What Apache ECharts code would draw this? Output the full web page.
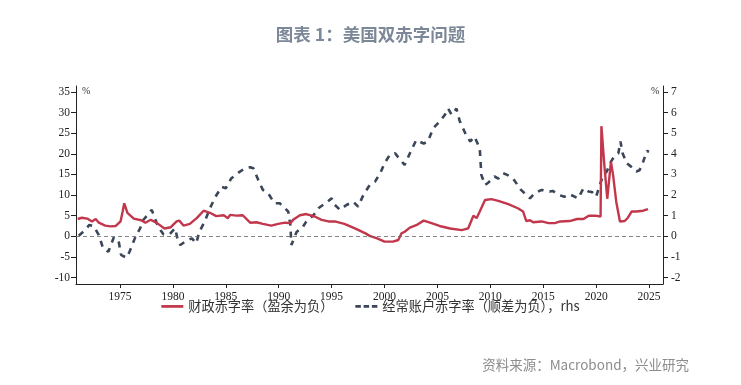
<!DOCTYPE html>
<html><head><meta charset="utf-8">
<script src="https://cdn.jsdelivr.net/npm/echarts@6/dist/echarts.min.js"></script>
<style>html,body{margin:0;padding:0;background:#fff}#c{width:741px;height:385px}</style>
</head><body><div id="c"></div>
<script>
// Fiscal deficit (% GDP, left axis)
var fiscalYears = [1971.0,1971.4,1971.9,1972.35,1972.7,1973.0,1973.6,1974.1,1974.6,1975.05,1975.25,1975.4,1975.7,1976.3,1977.0,1977.4,1977.9,1978.5,1979.2,1979.8,1980.35,1980.6,1981.0,1981.6,1982.25,1982.9,1983.5,1984.1,1984.8,1985.2,1985.4,1986.0,1986.6,1987.3,1987.9,1988.5,1989.3,1989.95,1990.6,1991.1,1991.4,1992.0,1992.6,1993.4,1994.05,1994.7,1995.3,1996.2,1997.2,1998.2,1998.6,1999.3,2000.0,2000.8,2001.3,2001.6,2001.9,2002.4,2003.0,2003.7,2004.3,2005.2,2006.2,2007.3,2007.9,2008.4,2008.7,2009.0,2009.5,2010.1,2010.75,2011.7,2012.6,2013.1,2013.4,2013.75,2014.05,2014.85,2015.5,2016.1,2016.6,2017.5,2018.2,2018.8,2019.3,2019.9,2020.42,2020.5,2020.75,2021.05,2021.4,2021.6,2021.9,2022.25,2022.7,2023.0,2023.35,2023.8,2024.45,2024.9];
var fiscalValues = [4.2,4.5,4.3,3.6,4.2,3.3,2.6,2.4,2.5,3.6,6.0,8.0,5.7,4.3,3.9,3.3,4.0,3.2,1.9,2.2,3.6,3.8,2.6,3.0,4.4,6.2,5.7,4.9,5.1,4.4,5.2,5.0,5.1,3.3,3.4,3.0,2.6,3.0,3.3,3.2,4.1,5.1,5.4,4.8,4.0,3.6,3.6,3.0,1.9,0.7,0.1,-0.5,-1.3,-1.3,-0.9,0.7,1.1,2.1,2.7,3.8,3.3,2.5,1.9,1.5,1.9,5.0,4.4,6.0,8.8,9.0,8.6,7.8,6.8,6.0,3.7,3.9,3.4,3.6,3.2,3.2,3.6,3.7,4.2,4.2,5.0,5.0,4.8,26.7,18.1,9.1,18.1,14.9,8.4,3.6,3.7,4.5,6.0,6.0,6.2,6.6];
// Current account deficit (% GDP, right axis)
var caYears = [1971.1,1971.6,1972.1,1972.5,1973.0,1973.4,1973.9,1974.4,1974.85,1975.1,1975.6,1975.9,1976.4,1976.9,1977.2,1978.0,1978.3,1978.6,1979.1,1979.7,1980.2,1980.5,1980.7,1981.3,1981.8,1982.2,1982.5,1983.0,1983.5,1984.0,1984.6,1985.0,1985.5,1986.2,1986.8,1987.3,1987.6,1988.05,1988.5,1989.0,1989.6,1990.1,1990.6,1990.9,1991.1,1991.2,1991.7,1992.2,1992.6,1993.3,1993.75,1994.4,1995.0,1995.3,1995.8,1996.4,1997.05,1997.5,1998.0,1998.6,1999.1,1999.6,2000.0,2000.5,2001.0,2001.5,2001.9,2002.4,2003.0,2003.7,2004.1,2004.6,2005.2,2005.7,2006.0,2006.35,2006.8,2007.1,2007.7,2008.1,2008.5,2009.0,2009.15,2009.5,2009.8,2010.4,2010.75,2011.2,2011.6,2012.15,2012.9,2013.75,2014.2,2014.85,2015.6,2015.9,2016.5,2017.0,2017.5,2018.3,2018.8,2019.3,2019.6,2020.0,2020.4,2020.7,2021.0,2021.4,2021.7,2022.1,2022.3,2022.5,2022.9,2023.3,2023.8,2024.1,2024.45,2024.8,2025.0];
var caValues = [0.03,0.26,0.55,0.5,0.06,-0.58,-0.75,-0.07,-0.18,-0.9,-1.04,-0.75,-0.1,0.39,0.79,1.28,0.87,0.47,0.1,0.1,0.39,-0.26,-0.42,-0.21,-0.1,-0.34,0.22,0.71,1.36,1.9,2.4,2.33,2.8,3.09,3.3,3.35,3.3,2.75,2.25,2.09,1.6,1.6,1.36,1.2,0.55,-0.42,0.22,0.39,0.71,1.03,1.36,1.6,1.84,1.52,1.28,1.52,1.68,1.44,2.0,2.49,2.65,3.06,3.54,3.95,4.03,3.7,3.46,4.03,4.67,4.5,4.6,5.24,5.56,5.89,6.2,5.89,6.2,5.6,4.92,4.6,4.84,4.27,2.98,2.49,2.6,2.9,2.8,3.06,2.98,2.8,2.25,1.84,2.09,2.25,2.17,2.2,2.0,1.92,2.04,1.84,2.33,2.17,2.15,1.92,2.57,2.98,3.14,3.62,3.86,4.03,4.6,4.03,3.54,3.38,3.14,3.2,3.62,4.14,4.1];
var xTicks = [1975,1980,1985,1990,1995,2000,2005,2010,2015,2020,2025];
var leftTicks = [-10,-5,0,5,10,15,20,25,30,35];
var rightTicks = [-2,-1,0,1,2,3,4,5,6,7];
var seriesNames = ['财政赤字率（盈余为负）','经常账户赤字率（顺差为负），rhs'];

function pairs(xs, ys){ return xs.map(function(x,i){ return [x, ys[i]]; }); }

var chart = echarts.init(document.getElementById('c'), null, {renderer:'canvas'});
var axisFont = {fontFamily:'Liberation Serif', fontSize:11.5, color:'#222'};
chart.setOption({
  animation:false,
  backgroundColor:'#fff',
  title:{text:'图表 1：美国双赤字问题', left:'center', top:21,
    textStyle:{fontFamily:'Noto Sans CJK SC', fontSize:17.5, fontWeight:'bold', color:'#7c8797'}},
  grid:{left:76, right:78, top:86, bottom:101},
  legend:{bottom:67, left:'center', itemWidth:22, itemHeight:10, itemGap:22,
    textStyle:{fontFamily:'Noto Sans CJK SC', fontSize:13.2, color:'#333'},
    data:[
      {name:seriesNames[0], icon:'path://M0,0h24v3h-24z', itemStyle:{color:'#c2374c'}},
      {name:seriesNames[1], icon:'path://M0,0h6v3h-6z M9,0h6v3h-6z M18,0h6v3h-6z', itemStyle:{color:'#3b4658'}}
    ]},
  xAxis:{type:'value', min:1970.84, max:2026.32,
    axisLine:{show:true, onZero:false, lineStyle:{color:'#222', width:1}},
    axisTick:{show:true, length:4, customValues:xTicks, lineStyle:{color:'#222'}},
    axisLabel:Object.assign({customValues:xTicks, margin:7, formatter:function(v){return String(v);}}, axisFont),
    splitLine:{show:false}},
  yAxis:[
    {type:'value', min:-11.57, max:36.45, position:'left',
     axisLine:{show:true, lineStyle:{color:'#222', width:1}},
     axisTick:{show:true, length:5, customValues:leftTicks, lineStyle:{color:'#222'}},
     axisLabel:Object.assign({customValues:leftTicks, margin:6}, axisFont),
     splitLine:{show:false}},
    {type:'value', min:-2.314, max:7.29, position:'right',
     axisLine:{show:true, lineStyle:{color:'#222', width:1}},
     axisTick:{show:true, length:5, customValues:rightTicks, lineStyle:{color:'#222'}},
     axisLabel:Object.assign({customValues:rightTicks, margin:8}, axisFont),
     splitLine:{show:false}}
  ],
  graphic:[
    {type:'text', left:82, top:86, style:{text:'%', fontFamily:'Liberation Serif', fontSize:10, fill:'#333'}},
    {type:'text', left:651, top:86, style:{text:'%', fontFamily:'Liberation Serif', fontSize:10, fill:'#333'}},
    {type:'text', right:52, top:358, style:{text:'资料来源：Macrobond，兴业研究', fontFamily:'Noto Sans CJK SC', fontSize:13.5, fill:'#8c8c8c'}}
  ],
  series:[
    {name:seriesNames[1], type:'line', yAxisIndex:1, data:pairs(caYears, caValues),
     symbol:'none', lineStyle:{color:'#3b4658', width:2.6, type:[6,6]}, itemStyle:{color:'#3b4658'}, z:2},
    {name:seriesNames[0], type:'line', yAxisIndex:0, data:pairs(fiscalYears, fiscalValues),
     symbol:'none', lineStyle:{color:'#c2374c', width:2.4}, itemStyle:{color:'#c2374c'}, z:3,
     markLine:{silent:true, symbol:'none', label:{show:false},
       lineStyle:{color:'#666', width:0.8, type:[4,3]}, data:[{yAxis:0}]}}
  ]
});
</script></body></html>
